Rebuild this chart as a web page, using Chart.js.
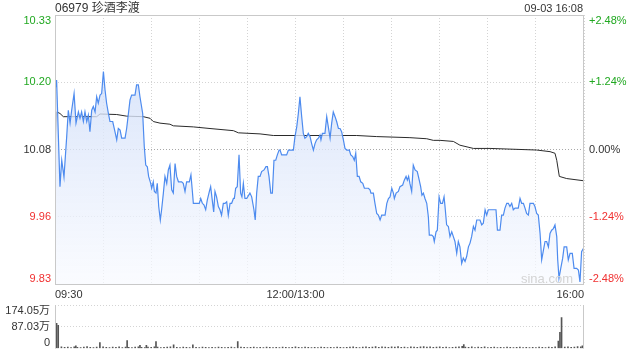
<!DOCTYPE html>
<html>
<head>
<meta charset="utf-8">
<title>06979 珍酒李渡</title>
<script src="https://cdn.jsdelivr.net/npm/chart.js@4.4.1/dist/chart.umd.min.js"></script>
<style>
  html, body { margin: 0; padding: 0; background: #fff; }
  #wrap { position: relative; width: 640px; height: 360px; overflow: hidden; }
  #wrap canvas { position: absolute; left: 0; }
  #price-chart { top: 0; }
  #volume-chart { top: 290px; }
</style>
</head>
<body>
<div id="wrap">
  <canvas id="price-chart" width="640" height="300"></canvas>
  <canvas id="volume-chart" width="640" height="70"></canvas>
</div>
<script>
// ===== DATA =====
const stockTitle = '06979 珍酒李渡';
const stampText = '09-03 16:08';

// minutes since 09:30 (lunch break removed, 330 = 16:00)
const timeTicks = [0, 30, 60, 90, 120, 150, 180, 210, 240, 270, 300, 330];
const timeLabels = ['09:30', '', '', '', '', '12:00/13:00', '', '', '', '', '', '16:00'];

const priceTicks = [9.83, 9.955, 10.08, 10.205, 10.33];
const priceLabels = ['9.83', '9.96', '10.08', '10.20', '10.33'];
const pctLabels = ['-2.48%', '-1.24%', '0.00%', '+1.24%', '+2.48%'];

const priceMinutes = [
  0, 1.0, 3.1, 4.2, 5.6, 7.3, 8.3, 9.4, 10.4, 11.9, 13.1, 14.6, 15.6, 16.6, 17.7, 18.7, 19.8, 20.8, 21.8, 22.9,
  23.9, 25.0, 26.0, 27.0, 28.1, 29.1, 30.2, 31.2, 32.2, 33.3, 34.3, 36.0, 37.4, 38.5, 39.5, 40.6, 41.6, 43.7, 44.7, 46.8,
  47.8, 49.9, 50.9, 52.0, 53.0, 54.7, 55.7, 56.6, 57.6, 58.4, 59.7, 60.3, 61.3, 62.0, 63.0, 63.8, 64.7, 65.7, 66.5, 67.6,
  68.6, 69.7, 70.7, 71.7, 72.8, 73.8, 74.9, 75.9, 77.0, 79.0, 80.0, 81.1, 82.1, 83.8, 84.8, 85.7, 86.3, 88.4, 90.0, 90.9,
  91.9, 92.9, 94.0, 95.0, 96.3, 97.1, 98.1, 99.0, 99.8, 100.8, 101.9, 102.9, 103.9, 105.0, 106.1, 107.1, 108.1, 109.2, 110.2, 111.3,
  111.9, 112.7, 113.7, 114.8, 115.8, 116.6, 117.5, 118.5, 119.6, 121.6, 122.7, 124.1, 124.9, 125.8, 126.8, 127.9, 128.9, 130.4, 131.6, 132.5,
  133.5, 134.6, 135.6, 136.6, 137.7, 138.7, 139.8, 140.4, 141.4, 144.5, 145.6, 148.7, 149.7, 150.8, 151.8, 152.8, 153.9, 154.9, 155.9, 157.0,
  158.0, 159.1, 160.1, 161.2, 162.2, 163.2, 164.3, 165.3, 165.9, 166.8, 168.4, 169.5, 170.5, 171.6, 172.6, 173.6, 174.7, 175.7, 176.8, 177.8,
  178.8, 179.9, 180.9, 182.0, 183.6, 184.5, 185.7, 186.7, 187.6, 188.6, 189.7, 190.7, 192.0, 193.0, 195.5, 196.5, 197.1, 198.6, 199.6, 200.7,
  201.7, 202.8, 203.8, 205.9, 207.0, 208.0, 209.0, 210.1, 211.1, 211.7, 212.8, 214.2, 215.2, 216.9, 217.9, 219.0, 219.8, 220.6, 221.4, 222.5,
  223.5, 224.6, 226.0, 227.0, 228.1, 228.9, 229.8, 230.8, 231.9, 232.9, 233.5, 235.0, 236.0, 236.6, 237.7, 238.5, 239.6, 240.6, 241.7, 242.7,
  243.3, 244.3, 245.4, 246.4, 247.5, 248.5, 249.5, 250.6, 251.6, 252.6, 253.7, 254.7, 255.8, 256.8, 257.9, 258.9, 259.9, 261.0, 262.0, 263.1,
  265.1, 266.2, 267.2, 268.3, 269.3, 270.3, 275.1, 276.0, 277.6, 278.6, 279.7, 280.7, 281.8, 282.8, 283.8, 284.9, 285.9, 287.0, 289.0, 290.1,
  291.1, 292.2, 293.2, 294.2, 295.3, 296.3, 298.4, 299.4, 300.5, 301.5, 302.6, 303.6, 304.7, 305.7, 306.7, 307.8, 308.8, 309.8, 310.9, 311.9,
  313.0, 313.6, 314.4, 315.5, 316.7, 317.6, 319.2, 320.2, 321.3, 322.7, 323.8, 325.4, 326.5, 327.5, 328.5, 329.6
];
const priceValues = [
  10.190, 10.209, 10.011, 10.060, 10.029, 10.104, 10.153, 10.129, 10.153, 10.184, 10.129, 10.150, 10.138, 10.150, 10.132, 10.150, 10.132, 10.144, 10.113, 10.153,
  10.160, 10.150, 10.178, 10.166, 10.181, 10.184, 10.225, 10.191, 10.166, 10.147, 10.132, 10.132, 10.113, 10.098, 10.119, 10.116, 10.101, 10.101, 10.119, 10.172,
  10.181, 10.181, 10.200, 10.200, 10.178, 10.147, 10.085, 10.051, 10.048, 10.030, 10.017, 10.008, 10.020, 10.002, 9.999, 10.017, 9.974, 9.949, 9.968, 9.999,
  10.030, 10.017, 10.042, 10.051, 10.005, 9.999, 10.054, 10.030, 10.020, 10.020, 10.017, 10.002, 10.020, 10.020, 10.033, 10.002, 9.980, 9.980, 9.980, 9.989,
  9.980, 9.977, 9.968, 9.986, 10.002, 10.011, 9.986, 9.964, 10.002, 9.992, 9.974, 9.968, 9.958, 9.980, 9.980, 9.983, 9.958, 9.980, 9.980, 9.989,
  9.989, 10.008, 10.011, 10.070, 9.999, 9.992, 10.017, 9.989, 9.989, 9.999, 9.992, 9.968, 9.949, 9.999, 10.030, 10.030, 10.039, 10.042, 10.048, 10.048,
  10.030, 9.999, 9.999, 10.060, 10.060, 10.070, 10.079, 10.079, 10.070, 10.070, 10.079, 10.079, 10.104, 10.122, 10.147, 10.178, 10.141, 10.110, 10.101, 10.104,
  10.110, 10.104, 10.091, 10.079, 10.091, 10.098, 10.101, 10.107, 10.098, 10.110, 10.110, 10.141, 10.122, 10.101, 10.129, 10.150, 10.141, 10.132, 10.119, 10.119,
  10.113, 10.098, 10.082, 10.079, 10.079, 10.070, 10.067, 10.060, 10.073, 10.030, 10.030, 10.020, 10.017, 10.008, 10.008, 10.005, 9.999, 9.999, 9.980, 9.961,
  9.958, 9.949, 9.958, 9.958, 9.980, 9.989, 9.992, 10.008, 9.999, 9.989, 9.999, 10.002, 10.011, 10.014, 10.023, 10.030, 10.023, 10.030, 10.017, 10.002,
  10.051, 10.042, 10.039, 10.026, 10.011, 9.995, 9.999, 9.989, 9.980, 9.955, 9.921, 9.921, 9.918, 9.909, 9.927, 9.930, 9.992, 9.980, 9.980, 9.992,
  9.974, 9.940, 9.937, 9.918, 9.927, 9.918, 9.909, 9.887, 9.909, 9.899, 9.868, 9.878, 9.872, 9.881, 9.899, 9.906, 9.918, 9.937, 9.930, 9.949,
  9.949, 9.940, 9.943, 9.968, 9.958, 9.968, 9.968, 9.930, 9.930, 9.958, 9.958, 9.971, 9.980, 9.980, 9.974, 9.980, 9.968, 9.971, 9.971, 9.989,
  9.980, 9.980, 9.971, 9.961, 9.958, 9.980, 9.980, 9.974, 9.961, 9.958, 9.924, 9.875, 9.893, 9.909, 9.909, 9.899, 9.924, 9.930, 9.933, 9.940,
  9.918, 9.875, 9.841, 9.859, 9.878, 9.899, 9.899, 9.875, 9.887, 9.887, 9.859, 9.859, 9.856, 9.834, 9.890, 9.896
];

// average price line
const avgMinutes = [
  0, 1.0, 3.1, 5.2, 26.0, 28.1, 38.5, 44.7, 55.1, 59.3, 61.3, 65.5, 71.7, 73.8, 86.3, 96.7, 111.3, 114.4, 127.9, 136.2,
  162.2, 188.2, 200.7, 221.4, 231.9, 236.0, 240.2, 248.5, 252.6, 261.0, 271.4, 300.5, 308.8, 311.9, 313.0, 314.6, 319.2, 329.6
];
const avgValues = [
  10.082, 10.150, 10.147, 10.141, 10.141, 10.146, 10.145, 10.142, 10.141, 10.138, 10.132, 10.129, 10.127, 10.124, 10.122, 10.119, 10.115, 10.111, 10.109, 10.106,
  10.106, 10.106, 10.104, 10.102, 10.100, 10.097, 10.097, 10.095, 10.088, 10.082, 10.082, 10.079, 10.076, 10.073, 10.060, 10.030, 10.026, 10.022
];

// volume, in 万 shares
const volTicks = [0, 87.03, 174.05];
const volLabels = ['0', '87.03万', '174.05万'];
const volMinutes = [
  0, 1, 2, 4, 6, 8, 10, 12, 13, 14, 16, 18, 20, 22, 24, 26, 28, 30, 32, 34, 36, 38, 40, 42, 44, 45, 46, 48, 50, 52,
  53, 54, 56, 57, 58, 60, 62, 63, 64, 66, 68, 70, 72, 74, 76, 78, 80, 82, 84, 86, 88, 90, 92, 94, 96, 98, 100, 102, 104, 106,
  108, 110, 112, 114, 116, 118, 120, 122, 124, 126, 128, 130, 132, 134, 136, 138, 140, 142, 144, 146, 148, 150, 152, 154, 156, 158, 160, 162, 164, 166,
  168, 170, 172, 174, 176, 178, 180, 182, 184, 186, 188, 190, 192, 194, 196, 198, 200, 202, 204, 206, 208, 210, 212, 214, 216, 218, 220, 222, 224, 226,
  228, 230, 232, 234, 236, 238, 240, 242, 244, 246, 248, 250, 252, 254, 255, 256, 258, 260, 262, 264, 266, 268, 270, 272, 274, 276, 278, 280, 282, 284,
  286, 288, 290, 292, 294, 296, 298, 300, 302, 304, 306, 308, 310, 312, 314, 315, 316, 318, 320, 322, 324, 326, 328, 329, 330
];
const volValues = [
  174, 101, 93, 6, 4, 5, 3, 6, 10, 4, 3, 5, 7, 4, 3, 5, 23, 6, 4, 3, 5, 4, 6, 3, 5, 31, 4, 3, 5, 6,
  12, 4, 3, 12, 5, 4, 6, 27, 5, 3, 4, 5, 6, 14, 4, 3, 5, 4, 3, 14, 4, 3, 5, 4, 3, 4, 3, 5, 4, 3,
  4, 5, 3, 27, 5, 4, 3, 4, 5, 3, 4, 3, 5, 4, 3, 4, 3, 5, 4, 3, 4, 6, 4, 3, 5, 4, 3, 4, 3, 5,
  4, 3, 4, 3, 5, 4, 3, 4, 5, 6, 4, 3, 5, 6, 4, 5, 7, 4, 6, 5, 4, 6, 5, 7, 4, 5, 3, 6, 5, 4,
  6, 7, 5, 6, 4, 5, 6, 4, 5, 3, 4, 5, 6, 8, 15, 5, 4, 6, 3, 5, 4, 6, 3, 4, 5, 3, 4, 3, 5, 4,
  3, 4, 5, 3, 4, 3, 4, 3, 5, 4, 3, 5, 4, 6, 29, 64, 124, 5, 6, 4, 5, 7, 6, 10, 8
];

// ===== STYLE =====
const FONT = '"Liberation Sans", Arial, "Noto Sans CJK SC", sans-serif';
const GREEN = '#21a821';
const RED = '#f03030';
const DARK = '#333333';
const tickColors = [RED, RED, DARK, GREEN, GREEN];
const FRAME = '#c9c9c9';
const GRID = '#d4d4d4';

Chart.defaults.font.family = FONT;
Chart.defaults.font.size = 11;
Chart.defaults.color = DARK;

/**
 * Force a fixed axis size so both panels share the same plot edges
 */
function fixWidth(w) {
  return scale => { scale.width = w; };
}

/**
 * Use our own tick values instead of the generated ones
 */
function useTicks(values) {
  return scale => { scale.ticks = values.map(v => ({ value: v })); };
}

/**
 * Keep the lowest and highest y labels inside the plot box
 */
const edgeLabels = {
  id: 'edgeLabels',
  beforeDraw(chart) {
    Object.values(chart.scales).forEach(scale => {
      if (scale.isHorizontal() || !scale.options.display) return;
      const items = scale.getLabelItems(chart.chartArea);
      if (!items || items.length < 2) return;
      items[0].options.textBaseline = 'bottom';
      items[items.length - 1].options.textBaseline = 'top';
    });
  }
};

/**
 * Frame, header texts and watermark for the price panel
 */
const priceDecor = {
  id: 'priceDecor',
  afterDraw(chart) {
    const { ctx, chartArea: a } = chart;
    ctx.save();
    ctx.strokeStyle = FRAME;
    ctx.lineWidth = 1;
    ctx.strokeRect(a.left + 0.5, a.top + 0.5, a.right - a.left - 1, a.bottom - a.top);

    ctx.fillStyle = DARK;
    ctx.textBaseline = 'alphabetic';
    ctx.font = '12px ' + FONT;
    ctx.textAlign = 'left';
    ctx.fillText(stockTitle, a.left, 12);
    ctx.font = '11px ' + FONT;
    ctx.textAlign = 'right';
    ctx.fillText(stampText, a.right - 1, 12);

    ctx.fillStyle = '#d4d4d4';
    ctx.font = '13px ' + FONT;
    ctx.textAlign = 'right';
    ctx.fillText('sina.com', a.right - 11, a.bottom - 1);
    ctx.restore();
  }
};

/**
 * Side borders of the volume panel
 */
const volumeDecor = {
  id: 'volumeDecor',
  afterDraw(chart) {
    const { ctx, chartArea: a } = chart;
    ctx.save();
    ctx.strokeStyle = FRAME;
    ctx.lineWidth = 1;
    ctx.beginPath();
    ctx.moveTo(a.left + 0.5, a.top);
    ctx.lineTo(a.left + 0.5, a.bottom);
    ctx.moveTo(a.right - 0.5, a.top);
    ctx.lineTo(a.right - 0.5, a.bottom);
    ctx.stroke();
    ctx.restore();
  }
};

/**
 * Soft blue fill under the price line
 */
function areaFill(context) {
  const { chart } = context;
  const a = chart.chartArea;
  if (!a) return 'rgba(210,225,250,0.6)';
  const g = chart.ctx.createLinearGradient(0, a.top, 0, a.bottom);
  g.addColorStop(0, 'rgba(200,216,247,0.85)');
  g.addColorStop(1, 'rgba(248,250,255,0.7)');
  return g;
}

// ===== PRICE PANEL =====
new Chart(document.getElementById('price-chart'), {
  type: 'line',
  data: {
    datasets: [
      {
        label: 'price',
        data: priceMinutes.map((m, i) => ({ x: m, y: priceValues[i] })),
        borderColor: '#4d8bef',
        borderWidth: 1.2,
        backgroundColor: areaFill,
        fill: 'start',
        pointRadius: 0,
        tension: 0
      },
      {
        label: 'average',
        data: avgMinutes.map((m, i) => ({ x: m, y: avgValues[i] })),
        borderColor: '#2a2a2a',
        borderWidth: 1,
        fill: false,
        pointRadius: 0,
        tension: 0
      }
    ]
  },
  options: {
    responsive: false,
    animation: false,
    layout: { padding: { top: 15, left: 0, right: 0, bottom: 0 } },
    plugins: { legend: { display: false }, tooltip: { enabled: false } },
    scales: {
      x: {
        type: 'linear',
        min: 0,
        max: 330,
        afterBuildTicks: useTicks(timeTicks),
        afterFit: scale => { scale.height = 16; },
        grid: { color: GRID, drawTicks: false },
        border: { display: false, dash: [1, 2] },
        ticks: {
          autoSkip: false,
          maxRotation: 0,
          align: 'inner',
          padding: 4,
          color: DARK,
          callback: (v, i) => timeLabels[i]
        }
      },
      y: {
        position: 'left',
        min: priceTicks[0],
        max: priceTicks[priceTicks.length - 1],
        afterBuildTicks: useTicks(priceTicks),
        afterFit: fixWidth(55),
        grid: {
          color: c => (c.index === 2 ? '#a8a8a8' : GRID),
          drawTicks: false
        },
        border: { display: false, dash: [1, 2] },
        ticks: {
          padding: 4,
          color: c => tickColors[c.index],
          callback: (v, i) => priceLabels[i]
        }
      },
      pct: {
        position: 'right',
        min: priceTicks[0],
        max: priceTicks[priceTicks.length - 1],
        afterBuildTicks: useTicks(priceTicks),
        afterFit: fixWidth(56),
        grid: { display: false, drawTicks: false },
        border: { display: false },
        ticks: {
          padding: 5,
          color: c => tickColors[c.index],
          callback: (v, i) => pctLabels[i]
        }
      }
    }
  },
  plugins: [edgeLabels, priceDecor]
});

// ===== VOLUME PANEL =====
new Chart(document.getElementById('volume-chart'), {
  type: 'bar',
  data: {
    datasets: [{
      label: 'volume',
      data: volMinutes.map((m, i) => ({ x: m, y: volValues[i] })),
      backgroundColor: '#555555',
      barThickness: 1,
      borderWidth: 0
    }]
  },
  options: {
    responsive: false,
    animation: false,
    layout: { padding: { top: 15, left: 0, right: 56, bottom: 5 } },
    plugins: { legend: { display: false }, tooltip: { enabled: false } },
    scales: {
      x: { type: 'linear', min: 0, max: 330, display: false, offset: false },
      y: {
        min: 0,
        max: volTicks[volTicks.length - 1],
        afterBuildTicks: useTicks(volTicks),
        afterFit: fixWidth(55),
        grid: {
          color: c => (c.index === 0 ? 'rgba(0,0,0,0)' : GRID),
          drawTicks: false
        },
        border: { display: false, dash: [1, 2] },
        ticks: {
          padding: 5,
          color: DARK,
          callback: (v, i) => volLabels[i]
        }
      }
    }
  },
  plugins: [edgeLabels, volumeDecor]
});
</script>
</body>
</html>
